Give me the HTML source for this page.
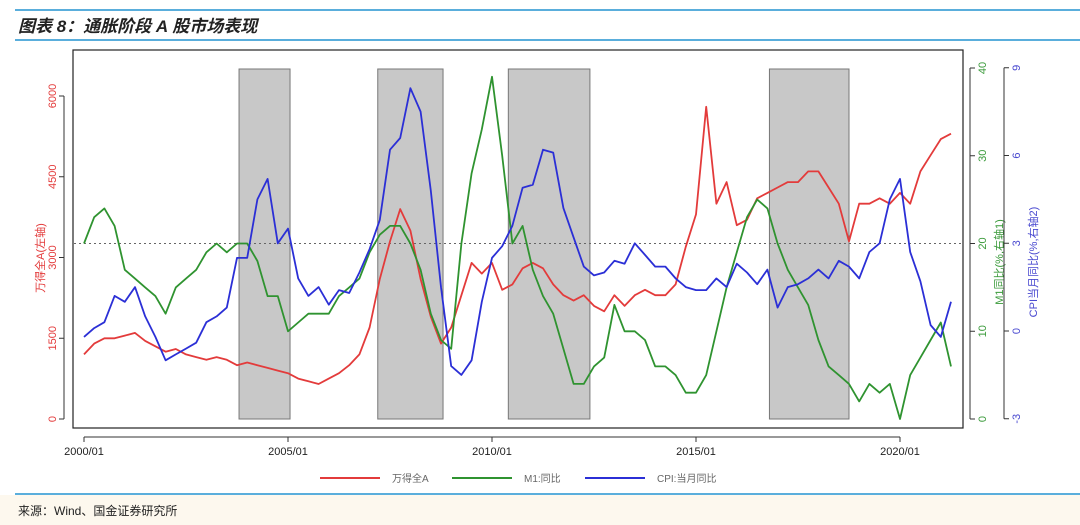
<!DOCTYPE html>
<html><head><meta charset="utf-8"><style>
body{margin:0;width:1080px;height:525px;background:#fff;overflow:hidden;font-family:"Liberation Sans","Noto Sans CJK SC",sans-serif;position:relative}
#title{position:absolute;left:18px;top:12px;font-size:17px;font-weight:bold;font-style:italic;color:#222}
.hl{position:absolute;left:15px;width:1065px;height:2px;background:#5aaedc}
#foot{position:absolute;left:0;top:495px;width:1080px;height:30px;background:#fdf8ee}
#src{position:absolute;left:18px;top:502px;font-size:12px;color:#222}
</style></head><body>
<div class="hl" style="top:9px"></div>
<div id="title">图表 8：通胀阶段 A 股市场表现</div>
<div class="hl" style="top:39px"></div>
<div id="foot"></div>
<div class="hl" style="top:493px"></div>
<div id="src">来源：Wind、国金证券研究所</div>
<svg id="c" width="1080" height="525" style="position:absolute;left:0;top:0"></svg>
<script>
const startYear=2000, step=0.25;
const years=[2000,2005,2010,2015,2020];
const shadeStarts=[2003.8,2007.2,2010.4,2016.8];
const shadeEnds=[2005.05,2008.8,2012.4,2018.75];
const leftTicks=[0,1500,3000,4500,6000];
const m1Ticks=[0,10,20,30,40];
const cpiTicks=[-3,0,3,6,9];
const windA=[1200,1400,1500,1500,1550,1600,1450,1350,1250,1300,1200,1150,1100,1150,1100,1000,1050,1000,950,900,850,750,700,650,750,850,1000,1200,1700,2600,3300,3900,3500,2600,1900,1400,1700,2300,2900,2700,2900,2400,2500,2800,2900,2800,2500,2300,2200,2300,2100,2000,2300,2100,2300,2400,2300,2300,2500,3200,3800,5800,4000,4400,3600,3700,4100,4200,4300,4400,4400,4600,4600,4300,4000,3300,4000,4000,4100,4000,4200,4000,4600,4900,5200,5300];
const m1=[20,23,24,22,17,16,15,14,12,15,16,17,19,20,19,20,20,18,14,14,10,11,12,12,12,14,15,16,19,21,22,22,20,17,12,9,8,20,28,33,39,30,20,22,17,14,12,8,4,4,6,7,13,10,10,9,6,6,5,3,3,5,10,15,19,23,25,24,20,17,15,13,9,6,5,4,2,4,3,4,0,5,7,9,11,6];
const cpi=[-0.2,0.1,0.3,1.2,1.0,1.5,0.5,-0.2,-1,-0.8,-0.6,-0.4,0.3,0.5,0.8,2.5,2.5,4.5,5.2,3.0,3.5,1.8,1.2,1.5,0.9,1.4,1.3,2.0,2.8,3.8,6.2,6.6,8.3,7.5,4.8,1.5,-1.2,-1.5,-1.0,1.0,2.5,2.9,3.6,4.9,5.0,6.2,6.1,4.2,3.2,2.2,1.9,2.0,2.4,2.3,3.0,2.6,2.2,2.2,1.8,1.5,1.4,1.4,1.8,1.5,2.3,2.0,1.6,2.1,0.8,1.5,1.6,1.8,2.1,1.8,2.4,2.2,1.8,2.7,3.0,4.5,5.2,2.7,1.7,0.2,-0.2,1.0];

const NS="http://www.w3.org/2000/svg";
const svg=document.getElementById('c');
function mk(t,a,p){const e=document.createElementNS(NS,t);for(const k in a)e.setAttribute(k,a[k]);(p||svg).appendChild(e);return e;}
const X=y=>84+(y-2000)*40.8;
const YL=v=>419-v*(323/6000);
const YM=v=>419-v*8.775;
const YC=v=>331-v*29.25;
const red='#e33b3b',green='#2f9330',blue='#2b2fd6';

for(let i=0;i<shadeStarts.length;i++){
  const r=mk('rect',{x:X(shadeStarts[i]),y:69,width:X(shadeEnds[i])-X(shadeStarts[i]),height:350,fill:'#c8c8c8',stroke:'#777','stroke-width':1});
  
  
}
const dl=mk('line',{x1:74,x2:962,y1:YM(20),y2:YM(20),stroke:'#666','stroke-dasharray':'2,3','stroke-width':1});



function series(arr,yf,col,name){
  const d=arr.map((v,i)=>(i?'L':'M')+X(startYear+i*step).toFixed(1)+','+yf(v).toFixed(1)).join(' ');
  const p=mk('path',{d:d,fill:'none',stroke:col,'stroke-width':1.8,'stroke-linejoin':'round'});
  
  
}
series(windA,YL,red,'wind-all-a-line');
series(m1,YM,green,'m1-yoy-line');
series(cpi,YC,blue,'cpi-yoy-line');

const box=mk('rect',{x:73,y:50,width:890,height:378,fill:'none',stroke:'#222','stroke-width':1.2});



// x axis
mk('line',{x1:X(2000),x2:X(2020),y1:437,y2:437,stroke:'#333'});
years.forEach(y=>{
  mk('line',{x1:X(y),x2:X(y),y1:437,y2:442,stroke:'#333'});
  const t=mk('text',{x:X(y),y:455,'text-anchor':'middle','font-size':11,fill:'#222'});
  t.textContent=y+'/01';
  
  
});
// left axis
mk('line',{x1:64,x2:64,y1:YL(0),y2:YL(6000),stroke:'#333'});
leftTicks.forEach(v=>{
  mk('line',{x1:59,x2:64,y1:YL(v),y2:YL(v),stroke:'#333'});
  const t=mk('text',{x:0,y:0,'text-anchor':'middle','font-size':11,fill:red,transform:`translate(${56},${YL(v)}) rotate(-90)`});
  t.textContent=v;
  
  
});
const lt=mk('text',{'text-anchor':'middle','font-size':11,fill:red,transform:'translate(44,258) rotate(-90)'});
lt.textContent='万得全A(左轴)';


// right axes
function raxis(x,ticks,yf,col,title,tx,name){
  mk('line',{x1:x,x2:x,y1:yf(ticks[0]),y2:yf(ticks[ticks.length-1]),stroke:'#333'});
  ticks.forEach(v=>{
    mk('line',{x1:x,x2:x+5,y1:yf(v),y2:yf(v),stroke:'#333'});
    const t=mk('text',{'text-anchor':'middle','font-size':11,fill:col,transform:`translate(${x+16},${yf(v)}) rotate(-90)`});
    t.textContent=v;
    
    
  });
  const t=mk('text',{'text-anchor':'middle','font-size':11,fill:col,transform:`translate(${tx},262) rotate(-90)`});
  t.textContent=title;
  
  
}
raxis(970,m1Ticks,YM,'#3a9a3a','M1同比(%,右轴1)',1003,'m1');
raxis(1004,cpiTicks,YC,'#4a4ad0','CPI当月同比(%,右轴2)',1037,'cpi');

// legend
[['万得全A',red,320],['M1:同比',green,452],['CPI:当月同比',blue,585]].forEach(l=>{
  const g=mk('g',{});
  
  
  mk('line',{x1:l[2],x2:l[2]+60,y1:478,y2:478,stroke:l[1],'stroke-width':2},g);
  const t=mk('text',{x:l[2]+72,y:482,'font-size':10,fill:'#666'},g);
  t.textContent=l[0];
});
</script>
</body></html>
